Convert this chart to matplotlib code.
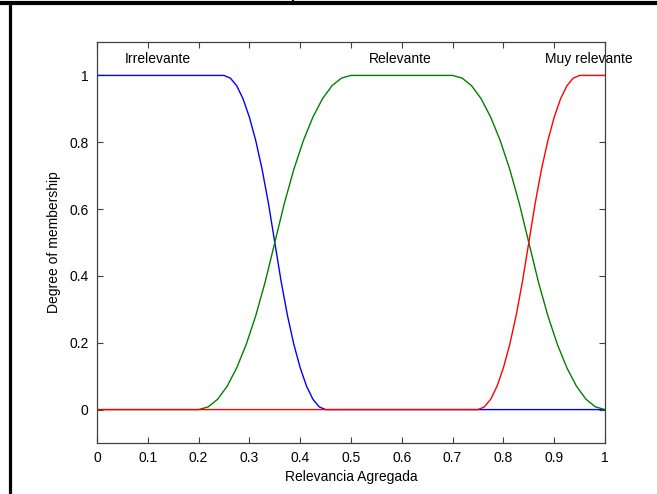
import matplotlib
matplotlib.use('Agg')
import matplotlib.pyplot as plt
from matplotlib.lines import Line2D

plt.rcParams['font.family'] = ['Liberation Sans', 'DejaVu Sans']

# membership functions
irr_x = [0, 0.25, 0.2625, 0.275, 0.2875, 0.30, 0.3125, 0.325, 0.3375, 0.35,
         0.3625, 0.375, 0.3875, 0.40, 0.4125, 0.425, 0.4375, 0.45, 1.0]
irr_y = [1, 1, 0.992, 0.969, 0.930, 0.875, 0.805, 0.719, 0.617, 0.5,
         0.383, 0.281, 0.195, 0.125, 0.070, 0.031, 0.008, 0, 0]

rel_x = [0, 0.2, 0.21875, 0.2375, 0.25625, 0.275, 0.29375, 0.3125, 0.33125, 0.35,
         0.36875, 0.3875, 0.40625, 0.425, 0.44375, 0.4625, 0.48125, 0.5,
         0.7, 0.71875, 0.7375, 0.75625, 0.775, 0.79375, 0.8125, 0.83125, 0.85,
         0.86875, 0.8875, 0.90625, 0.925, 0.94375, 0.9625, 0.98125, 1.0]
rel_y = [0, 0, 0.008, 0.031, 0.070, 0.125, 0.195, 0.281, 0.383, 0.5,
         0.617, 0.719, 0.805, 0.875, 0.930, 0.969, 0.992, 1,
         1, 0.992, 0.969, 0.930, 0.875, 0.805, 0.719, 0.617, 0.5,
         0.383, 0.281, 0.195, 0.125, 0.070, 0.031, 0.008, 0]

muy_x = [0, 0.75, 0.7625, 0.775, 0.7875, 0.80, 0.8125, 0.825, 0.8375, 0.85,
         0.8625, 0.875, 0.8875, 0.90, 0.9125, 0.925, 0.9375, 0.95, 1.0]
muy_y = [0, 0, 0.008, 0.031, 0.070, 0.125, 0.195, 0.281, 0.383, 0.5,
         0.617, 0.719, 0.805, 0.875, 0.930, 0.969, 0.992, 1, 1]

labels = ['Irrelevante', 'Relevante', 'Muy relevante']
label_x = [0.12, 0.596, 0.968]
xticks = [0, 0.1, 0.2, 0.3, 0.4, 0.5, 0.6, 0.7, 0.8, 0.9, 1]
xticklabels = ['0', '0.1', '0.2', '0.3', '0.4', '0.5', '0.6', '0.7', '0.8', '0.9', '1']
yticks = [0, 0.2, 0.4, 0.6, 0.8, 1]
yticklabels = ['0', '0.2', '0.4', '0.6', '0.8', '1']

fig = plt.figure(figsize=(6.57, 4.94), dpi=100)
ax = fig.add_axes([97/657, 1 - 443/494, 508/657, 401/494])

ax.plot(irr_x, irr_y, color='#0000ff', lw=1.0)
ax.plot(rel_x, rel_y, color='#008000', lw=1.0)
ax.plot(muy_x, muy_y, color='#ff0000', lw=1.0)

for lab, lx in zip(labels, label_x):
    ax.text(lx, 1.048, lab, ha='center', va='center', fontsize=10)

ax.set_xlim(0, 1)
ax.set_ylim(-0.1, 1.1)
ax.set_xticks(xticks)
ax.set_xticklabels(xticklabels)
ax.set_yticks(yticks)
ax.set_yticklabels(yticklabels)
ax.tick_params(direction='in', length=4, width=0.8, color='#404040',
               top=True, right=True, labelsize=10, pad=6)
for s in ax.spines.values():
    s.set_color('#404040')
    s.set_linewidth(0.9)
ax.set_xlabel('Relevancia Agregada', fontsize=10, labelpad=3)
ax.set_ylabel('Degree of membership', fontsize=10, labelpad=6)

# frame lines around the figure
fig.add_artist(Line2D([0, 1], [1 - 3.5/494, 1 - 3.5/494], color='black', lw=3, transform=fig.transFigure))
fig.add_artist(Line2D([9.5/657, 9.5/657], [0, 1 - 4/494], color='black', lw=2.3, transform=fig.transFigure))
fig.add_artist(Line2D([293/657, 293/657], [1, 1 - 4/494], color='black', lw=1.5, transform=fig.transFigure))

fig.savefig('out.png', dpi=100)
